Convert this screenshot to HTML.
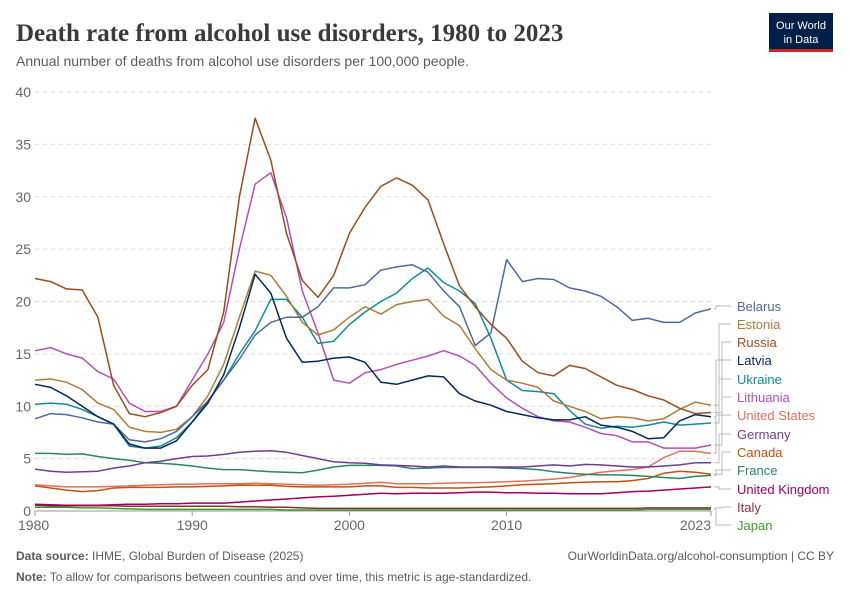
<!DOCTYPE html>
<html><head><meta charset="utf-8"><style>
body{margin:0;background:#fff;font-family:"Liberation Sans",sans-serif}
svg text{font-family:"Liberation Sans",sans-serif}
</style></head><body>
<svg id="c" width="850" height="600" xmlns="http://www.w3.org/2000/svg">
<text x="16" y="41" font-family="Liberation Serif" font-size="25" font-weight="bold" fill="#3a3a3a" style="font-family:'Liberation Serif',serif">Death rate from alcohol use disorders, 1980 to 2023</text>
<text x="16" y="66" font-size="14" fill="#5b5b5b">Annual number of deaths from alcohol use disorders per 100,000 people.</text>
<g>
<rect x="769" y="13" width="64" height="38" fill="#002147"/>
<rect x="769" y="49" width="64" height="3" fill="#ce261e"/>
<text x="801" y="29" font-size="11" fill="#fff" text-anchor="middle">Our World</text>
<text x="801" y="43" font-size="11" fill="#fff" text-anchor="middle">in Data</text>
</g>
<g id="grid"></g><g id="lines"></g><g id="legend"></g>
<text x="16" y="560" font-size="12" fill="#5b5b5b"><tspan font-weight="bold">Data source:</tspan> IHME, Global Burden of Disease (2025)</text>
<text x="834" y="560" font-size="12" fill="#5b5b5b" text-anchor="end">OurWorldinData.org/alcohol-consumption | CC BY</text>
<text x="16" y="581" font-size="12" fill="#5b5b5b"><tspan font-weight="bold">Note:</tspan> To allow for comparisons between countries and over time, this metric is age-standardized.</text>
</svg>
<script>
const years=[];for(let y=1980;y<=2023;y++)years.push(y);
const yTicks=[0,5,10,15,20,25,30,35,40];
const xTicks=[1980,1990,2000,2010,2023];
const names=["Belarus","Estonia","Russia","Latvia","Ukraine","Lithuania","United States","Germany","Canada","France","United Kingdom","Italy","Japan"];
const colors=["#4c6a9c","#b07a3c","#9a4c1f","#00295b","#0f8b9b","#b44eb5","#e56e5a","#6d3e91","#c4520d","#2c8465","#a2005b","#883039","#3a9d2b"];
const belarus=[8.8,9.3,9.2,8.9,8.5,8.3,6.8,6.6,6.9,7.6,9.0,10.5,12.5,14.5,16.8,18.0,18.5,18.5,19.5,21.3,21.3,21.6,23.0,23.3,23.5,22.8,21.0,19.5,15.8,17.0,24.0,21.9,22.2,22.1,21.3,21.0,20.5,19.5,18.2,18.4,18.0,18.0,18.9,19.3];
const estonia=[12.5,12.6,12.3,11.6,10.3,9.7,8.0,7.6,7.5,7.8,9.0,11.0,14.0,18.5,22.9,22.5,20.5,18.0,16.8,17.3,18.5,19.5,18.8,19.7,20.0,20.2,18.6,17.7,15.5,13.5,12.5,12.2,11.8,10.5,10.0,9.5,8.8,9.0,8.9,8.6,8.8,9.7,10.4,10.1];
const russia=[22.2,21.9,21.2,21.1,18.5,12.0,9.3,9.0,9.4,10.0,12.0,13.5,19.0,30.0,37.5,33.5,26.5,22.0,20.4,22.5,26.5,29.0,31.0,31.8,31.1,29.7,25.5,21.5,19.5,17.8,16.5,14.3,13.2,12.9,13.9,13.6,12.8,12.0,11.6,11.0,10.6,9.8,9.3,9.4];
const latvia=[12.1,11.8,11.0,10.0,9.0,8.3,6.4,6.0,6.0,6.7,8.5,10.3,13.0,17.5,22.6,20.8,16.5,14.2,14.3,14.6,14.7,14.2,12.3,12.1,12.5,12.9,12.8,11.2,10.5,10.1,9.5,9.2,8.9,8.7,8.7,9.0,8.2,8.0,7.6,6.9,7.0,8.6,9.2,9.0];
const ukraine=[10.2,10.3,10.2,9.7,9.0,8.3,6.2,6.0,6.2,7.0,8.5,10.5,12.5,15.0,17.2,20.2,20.2,18.5,16.0,16.2,17.8,19.0,20.0,20.8,22.2,23.2,21.8,21.0,19.8,16.5,12.5,11.5,11.4,11.2,9.6,8.3,7.9,8.1,8.0,8.2,8.5,8.2,8.3,8.4];
const lithuania=[15.3,15.6,15.0,14.6,13.3,12.6,10.3,9.5,9.5,10.0,12.5,15.0,18.0,25.0,31.2,32.3,28.0,21.0,17.0,12.5,12.2,13.2,13.5,14.0,14.4,14.8,15.3,14.8,13.9,12.2,10.8,9.8,9.0,8.6,8.5,8.0,7.4,7.2,6.6,6.6,6.0,6.0,6.0,6.3];
const us=[2.5,2.4,2.3,2.3,2.3,2.35,2.4,2.45,2.5,2.55,2.55,2.6,2.6,2.6,2.65,2.6,2.55,2.5,2.45,2.5,2.55,2.65,2.75,2.6,2.6,2.6,2.65,2.7,2.7,2.75,2.8,2.85,2.95,3.05,3.2,3.45,3.7,3.85,3.95,4.2,5.1,5.7,5.7,5.5];
const germany=[4.0,3.8,3.7,3.75,3.8,4.1,4.3,4.6,4.75,5.0,5.2,5.25,5.4,5.6,5.7,5.75,5.6,5.3,5.0,4.7,4.6,4.55,4.4,4.35,4.3,4.2,4.3,4.2,4.2,4.2,4.2,4.2,4.3,4.4,4.3,4.45,4.4,4.3,4.2,4.2,4.3,4.4,4.6,4.6];
const canada=[2.4,2.2,2.0,1.85,1.95,2.2,2.25,2.25,2.25,2.3,2.3,2.35,2.4,2.45,2.45,2.45,2.35,2.3,2.3,2.3,2.3,2.4,2.4,2.25,2.25,2.2,2.2,2.2,2.25,2.3,2.4,2.5,2.55,2.6,2.7,2.75,2.8,2.8,2.9,3.1,3.6,3.8,3.7,3.5];
const france=[5.5,5.5,5.4,5.45,5.2,5.0,4.85,4.6,4.55,4.45,4.3,4.1,3.95,3.95,3.85,3.75,3.7,3.65,3.9,4.2,4.35,4.35,4.35,4.3,4.05,4.1,4.15,4.15,4.15,4.15,4.1,4.05,3.95,3.75,3.6,3.5,3.45,3.45,3.4,3.3,3.2,3.1,3.3,3.4];
const uk=[0.65,0.6,0.55,0.55,0.55,0.6,0.65,0.65,0.7,0.7,0.75,0.75,0.75,0.85,0.95,1.05,1.15,1.25,1.35,1.4,1.5,1.6,1.7,1.65,1.7,1.7,1.7,1.75,1.8,1.8,1.75,1.75,1.7,1.7,1.65,1.65,1.65,1.75,1.85,1.9,2.0,2.1,2.2,2.3];
const italy=[0.55,0.5,0.5,0.5,0.5,0.5,0.45,0.45,0.45,0.45,0.45,0.45,0.45,0.4,0.4,0.35,0.35,0.3,0.25,0.25,0.25,0.25,0.25,0.25,0.25,0.25,0.25,0.25,0.25,0.25,0.25,0.25,0.25,0.25,0.25,0.25,0.25,0.25,0.25,0.3,0.3,0.3,0.3,0.3];
const japan=[0.35,0.35,0.35,0.3,0.3,0.25,0.2,0.15,0.15,0.15,0.15,0.15,0.15,0.15,0.15,0.15,0.1,0.1,0.1,0.1,0.1,0.1,0.1,0.1,0.1,0.1,0.1,0.1,0.1,0.1,0.1,0.1,0.1,0.1,0.1,0.1,0.1,0.1,0.1,0.15,0.15,0.15,0.15,0.15];
const series=[belarus,estonia,russia,latvia,ukraine,lithuania,us,germany,canada,france,uk,italy,japan];
const NS="http://www.w3.org/2000/svg";
const X0=35,X1=711,Y0=511,Y1=92;
const xs=y=>X0+(y-1980)/(2023-1980)*(X1-X0);
const ys=v=>Y0-v/40*(Y0-Y1);
function mk(tag,attrs,parent){const e=document.createElementNS(NS,tag);for(const k in attrs)e.setAttribute(k,attrs[k]);parent.appendChild(e);return e;}
const grid=document.getElementById('grid');
yTicks.forEach(t=>{
 if(t>0){const l=mk('line',{x1:X0,x2:X1,y1:ys(t),y2:ys(t),stroke:'#ddd','stroke-dasharray':'4,4'},grid);
 
 }
 const tx=mk('text',{x:31,y:ys(t)+5,'font-size':14,fill:'#666','text-anchor':'end'},grid);tx.textContent=t;
 
 
});
const ax=mk('line',{x1:X0,x2:X1,y1:Y0,y2:Y0,stroke:'#999'},grid);


xTicks.forEach((t,i)=>{
 const tk=mk('line',{x1:xs(t),x2:xs(t),y1:Y0,y2:Y0+5,stroke:'#999'},grid);
 
 
 const anchor=i==0?'start':(i==xTicks.length-1?'end':'middle');
 const xx=i==0?xs(t)-17:xs(t);
 const tx=mk('text',{x:xx,y:Y0+19,'font-size':14,fill:'#666','text-anchor':anchor},grid);tx.textContent=t;
 
 
});
const lines=document.getElementById('lines');
const order=[12,11,10,8,6,9,7,5,4,1,0,3,2];
order.forEach(i=>{
 const d=series[i].map((v,j)=>(j?'L':'M')+xs(years[j]).toFixed(1)+','+ys(v).toFixed(1)).join('');
 const p=mk('path',{d:d,fill:'none',stroke:colors[i],'stroke-width':1.5,'stroke-linejoin':'round'},lines);
 
 
});
const leg=document.getElementById('legend');
const labelY=[306,324,342,360,379,397,415,434,452,470,489,507,525];
names.forEach((n,i)=>{
 const endY=ys(series[i][series[i].length-1]);
 const ly=labelY[i];
 const mid=716+ (i%3)*3;
 const c=mk('path',{d:`M714,${endY.toFixed(1)}H${mid}V${ly}H731`,fill:'none',stroke:'#bbb','stroke-width':1},leg);
 
 
 const t=mk('text',{x:737,y:ly+5,'font-size':13,fill:colors[i]},leg);t.textContent=n;
 
 
});
</script>
</body></html>
